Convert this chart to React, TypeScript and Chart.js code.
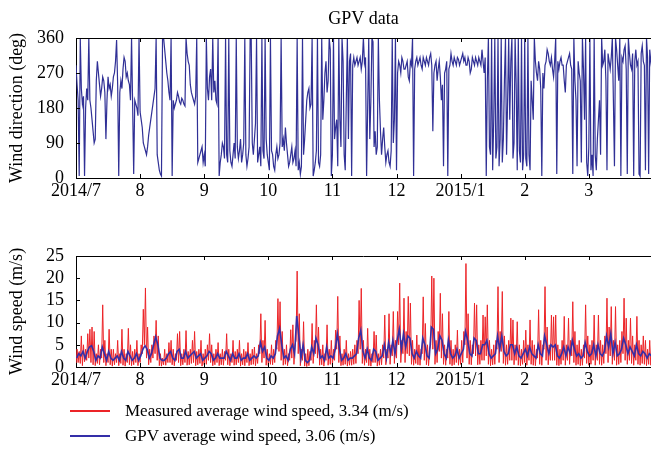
import React, { useEffect, useRef } from "react";
import { Chart, registerables } from "chart.js";

Chart.register(...registerables);

// ---------- Data ----------
const monthLabels = ["2014/7", "8", "9", "10", "11", "12", "2015/1", "2", "3"];
const DAYS = 30;

// Wind direction (deg), GPV: morning reading (A) and afternoon reading (B) per day
const dirJulA = [290, 200, 360, 190, 5, 230, 360, 180, 120, 100, 300, 240, 230, 250, 100, 260, 240, 230, 270, 355, 5, 250, 280, 300, 270, 240, 360, 10, 190, 160];
const dirJulB = [240, 5, 230, 210, 180, 200, 200, 150, 90, 250, 270, 210, 260, 220, 200, 230, 210, 260, 300, 240, 220, 230, 310, 260, 250, 200, 190, 200, 180, 360];
const dirAugA = [170, 130, 80, 60, 110, 150, 190, 230, 60, 20, 5, 360, 300, 250, 200, 5, 180, 200, 210, 190, 200, 185, 320, 290, 220, 200, 210, 40, 60, 80];
const dirAugB = [150, 90, 70, 80, 130, 170, 210, 360, 40, 10, 360, 330, 270, 220, 360, 200, 190, 220, 195, 205, 190, 360, 300, 240, 210, 190, 360, 50, 70, 40];
const dirSepA = [60, 360, 200, 280, 360, 250, 190, 5, 60, 80, 360, 40, 70, 30, 90, 360, 50, 100, 60, 360, 30, 80, 360, 60, 140, 40, 80, 360, 50, 100];
const dirSepB = [30, 230, 260, 200, 220, 200, 360, 40, 90, 50, 60, 360, 40, 60, 50, 80, 70, 40, 90, 60, 50, 360, 90, 100, 360, 60, 30, 70, 360, 60];
const dirOctA = [40, 360, 60, 20, 80, 60, 360, 100, 130, 60, 40, 80, 50, 30, 20, 10, 360, 100, 200, 230, 190, 5, 40, 360, 30, 360, 200, 300, 250, 330];
const dirOctB = [20, 70, 30, 60, 50, 90, 80, 70, 90, 30, 60, 40, 70, 360, 40, 30, 60, 150, 220, 180, 360, 20, 70, 40, 60, 150, 270, 220, 360, 5];
const dirNovA = [60, 100, 150, 360, 80, 300, 20, 360, 300, 5, 310, 300, 290, 310, 300, 295, 5, 360, 200, 350, 120, 80, 200, 60, 130, 40, 70, 30, 360, 150];
const dirNovB = [360, 130, 30, 150, 360, 60, 200, 100, 320, 290, 290, 310, 300, 280, 360, 310, 180, 100, 360, 80, 60, 360, 120, 100, 80, 60, 40, 70, 90, 360];
const dirDecA = [20, 300, 270, 300, 280, 300, 250, 290, 5, 300, 290, 310, 280, 300, 310, 290, 320, 120, 290, 250, 300, 200, 30, 280, 5, 290, 300, 310, 290, 305];
const dirDecB = [270, 290, 310, 280, 290, 260, 300, 360, 280, 310, 300, 290, 310, 290, 300, 310, 290, 270, 300, 280, 260, 240, 270, 300, 280, 320, 290, 300, 310, 290];
const dirJanA = [300, 320, 310, 290, 300, 280, 300, 310, 290, 300, 330, 270, 5, 360, 60, 20, 360, 80, 30, 360, 100, 360, 200, 150, 360, 90, 240, 360, 40, 20];
const dirJanB = [310, 300, 290, 310, 270, 310, 290, 300, 310, 290, 300, 310, 250, 80, 360, 150, 50, 360, 100, 40, 250, 60, 360, 300, 50, 360, 20, 70, 360, 60];
const dirFebA = [360, 30, 60, 250, 150, 300, 250, 280, 5, 230, 300, 320, 290, 280, 300, 10, 280, 310, 290, 220, 300, 320, 280, 360, 200, 300, 250, 360, 150, 40];
const dirFebB = [50, 360, 20, 200, 360, 270, 300, 230, 270, 290, 330, 300, 310, 260, 360, 300, 300, 290, 250, 290, 310, 290, 10, 250, 30, 270, 40, 280, 360, 5];
const dirMarA = [80, 20, 5, 60, 100, 200, 360, 300, 250, 320, 280, 360, 30, 330, 250, 5, 300, 340, 10, 320, 280, 5, 330, 300, 5, 340, 290, 360, 10, 300];
const dirMarB = [360, 60, 360, 20, 150, 60, 290, 330, 20, 300, 310, 200, 360, 290, 360, 310, 330, 280, 360, 290, 320, 300, 290, 10, 320, 300, 20, 310, 330, 280];
const directionA = [dirJulA, dirAugA, dirSepA, dirOctA, dirNovA, dirDecA, dirJanA, dirFebA, dirMarA];
const directionB = [dirJulB, dirAugB, dirSepB, dirOctB, dirNovB, dirDecB, dirJanB, dirFebB, dirMarB];

// Measured wind speed (m/s): daily low and daily high
const measLowJul = [0.5, 1, 0.8, 0.3, 1.2, 1.5, 2, 1, 0.5, 0.3, 0.8, 0.5, 2, 1, 0.3, 1, 0.5, 0.2, 0.5, 1, 0.3, 0.8, 0.4, 0.2, 1, 0.5, 0.3, 0.5, 1, 0.3];
const measHighJul = [4, 3.5, 7, 5, 4, 7.5, 8.5, 9, 8, 3, 5, 4, 14, 6, 3, 8.5, 4, 4, 3, 6, 3, 8.5, 4, 3, 8.7, 5, 3.5, 4, 6, 3];
const measLowAug = [1, 3, 5, 2, 0.5, 1, 2, 3, 1.5, 0.3, 0.2, 0.5, 0.4, 1, 1, 0.5, 0.3, 1.5, 1, 0.3, 0.5, 1, 0.4, 0.5, 0.8, 1, 0.3, 0.5, 0.8, 0.2];
const measHighAug = [5, 13, 17.8, 9, 4, 5, 7, 10.5, 7, 3, 2, 4, 3, 5.5, 6, 4, 3, 7.5, 8, 3, 4, 8.2, 3.5, 4, 6, 8, 3.5, 4, 6, 3];
const measLowSep = [0.5, 0.6, 1.5, 1, 0.3, 0.5, 1, 0.3, 0.5, 0.4, 1.5, 0.5, 0.3, 1, 0.4, 0.5, 1, 0.2, 0.5, 0.3, 1, 0.3, 0.5, 0.6, 0.3, 0.8, 3, 1, 2, 0.4];
const measHighSep = [4, 5, 7.5, 5, 3, 4, 5.5, 3, 4, 3.5, 7.5, 4, 3, 6, 3.5, 4, 6, 3, 4, 3.5, 5.5, 3, 4, 4.5, 3, 5, 12, 6, 10.5, 4];
const measLowOct = [0.3, 0.6, 0.5, 1, 4, 3.5, 1.5, 0.4, 0.6, 0.3, 1.5, 2, 0.6, 6, 3, 0.3, 1.5, 0.2, 0.1, 0.3, 1.5, 0.8, 3, 2, 0.4, 0.5, 0.2, 1.5, 0.4, 0.6];
const measHighOct = [3, 5, 4, 6, 15.4, 14.7, 8, 4, 5, 3, 8.4, 9.5, 5, 21.6, 12, 4, 10.2, 3, 4, 3.5, 9.8, 6, 14, 9, 4, 5, 3, 9.5, 4, 6];
const measLowNov = [0.4, 1.5, 4, 1, 0.3, 0.4, 0.6, 0.2, 0.4, 0.4, 0.6, 0.8, 3, 4, 0.8, 0.4, 1, 0.3, 0.2, 1, 1, 0.2, 0.4, 0.5, 2, 0.5, 2, 0.6, 2.5, 0.8];
const measHighNov = [4, 8.3, 15.9, 7, 3, 4, 6, 3, 3.5, 4, 5, 6, 15, 17.7, 6, 4, 8.7, 4, 3, 8, 7.2, 3, 4, 5, 11.7, 4, 12, 5, 12.5, 6];
const measLowDec = [2, 5, 1, 3, 1, 3, 2.5, 0.6, 0.4, 0.8, 0.5, 0.4, 3, 1.5, 0.5, 0.3, 5, 4, 0.6, 1, 3.5, 2, 0.6, 0.4, 2, 0.6, 0.3, 0.5, 1, 0.4];
const measHighDec = [12.5, 18.9, 6, 15.5, 8, 15.9, 14.4, 6, 4, 7.2, 5, 4, 15.8, 9.8, 5, 4, 20.5, 20, 6, 8, 16.6, 12, 5, 4, 12.5, 6, 4, 5, 8.3, 4];
const measLowJan = [0.6, 1, 5, 2, 0.6, 0.5, 3, 2.5, 0.5, 0.6, 1.5, 1.5, 2.5, 0.6, 0.3, 0.5, 0.6, 4, 1, 3.5, 0.8, 0.4, 0.6, 1.5, 1.5, 0.5, 1.5, 0.4, 0.3, 0.6];
const measHighJan = [6, 8, 23.3, 12, 6, 5, 14.4, 14, 5, 6, 11.7, 11.3, 14, 6, 4, 5, 6, 18.1, 8, 17, 7, 5, 6, 11, 10.6, 5, 10.2, 5, 4, 6];
const measLowFeb = [1, 0.4, 1.5, 0.6, 0.4, 0.3, 2, 0.6, 0.4, 4, 1.5, 0.5, 1.5, 1.5, 1.5, 0.4, 0.3, 0.6, 1.5, 0.4, 1.5, 0.6, 2.5, 1, 0.4, 0.6, 0.3, 0.4, 2, 0.8];
const measHighFeb = [8.3, 5, 10.6, 6, 5, 4, 12.9, 6, 5, 18.1, 9, 5, 11.7, 11.3, 11.7, 5, 4, 6, 11.4, 5, 11, 6, 14.7, 8, 5, 6, 4, 5, 14, 7];
const measLowMar = [0.4, 0.6, 1.5, 0.4, 1.5, 0.6, 0.4, 0.8, 3, 1, 2.5, 0.6, 1.5, 0.4, 0.6, 1, 3, 1.5, 0.6, 1.5, 0.8, 0.4, 1.5, 0.6, 0.4, 0.8, 0.6, 0.3, 0.6, 0.4];
const measHighMar = [5, 6, 11.7, 5, 11.7, 6, 5, 7, 15.5, 9, 13.6, 6, 13.6, 5, 6, 8, 15.5, 11, 6, 11, 7, 5, 11.4, 6, 5, 7, 6, 4, 6, 5];
const measuredLowByMonth = [measLowJul, measLowAug, measLowSep, measLowOct, measLowNov, measLowDec, measLowJan, measLowFeb, measLowMar];
const measuredHighByMonth = [measHighJul, measHighAug, measHighSep, measHighOct, measHighNov, measHighDec, measHighJan, measHighFeb, measHighMar];

// GPV wind speed (m/s), one reading per day
const gpvJul = [2, 3, 2.5, 3.5, 2, 3.5, 4.5, 4.8, 3.5, 1.5, 2.5, 2, 4.5, 3, 1.5, 3.5, 2, 1.5, 2, 2.5, 1.5, 3.5, 2, 1.5, 3.5, 2.5, 1.5, 2, 3, 1.5];
const gpvAug = [2.5, 4, 4.8, 4, 2, 3, 5, 6.8, 5, 2, 1.5, 1.5, 2, 3, 3.5, 2, 1.5, 3.5, 4, 2, 2, 3.5, 2, 2.5, 3, 3.5, 2, 2.5, 3, 1.5];
const gpvSep = [2, 2.5, 3.5, 3, 1.5, 2, 3, 2, 2, 2, 3.5, 2.5, 1.5, 3, 2, 2, 3, 1.5, 2, 2, 3, 1.5, 2, 2.5, 2, 2.5, 5.5, 3.5, 4.5, 2];
const gpvOct = [1.5, 2.5, 2, 3, 7, 8.7, 5, 2, 2.5, 1.5, 4, 5, 3, 11.5, 7, 2, 5, 1.5, 1, 1.5, 4.5, 3, 6.5, 5, 2, 2.5, 1.5, 4.5, 2, 2.5];
const gpvNov = [2, 4, 7.5, 4, 1.5, 2, 3, 1.5, 2, 2, 2.5, 3, 6.5, 8.3, 3.5, 2, 4, 2, 1.5, 4, 3.5, 1.5, 2, 2.5, 5, 2, 5.5, 3, 6, 3];
const gpvDec = [6, 8.5, 4, 7.5, 4.5, 7, 6.5, 3, 2, 3.5, 2.5, 2, 6.5, 5, 2.5, 2, 9, 8.5, 3, 4, 7, 6, 3, 2, 6, 3, 2, 2.5, 4, 2];
const gpvJan = [3, 4, 8, 6, 3, 2.5, 6.5, 6, 3, 3, 5, 5, 6, 3, 2, 2.5, 3, 7, 4, 7, 3.5, 2.5, 3, 5, 5, 3, 4.5, 2.5, 2, 3];
const gpvFeb = [4, 2.5, 4.5, 3, 2.5, 2, 5, 3, 2.5, 7, 5, 3, 5, 4.5, 5, 2.5, 2, 3, 4.5, 2.5, 4.5, 3, 6, 4, 2.5, 3, 2, 2.5, 5.5, 3.5];
const gpvMar = [2.5, 3, 5, 2.5, 5, 3, 2.5, 3.5, 7, 4.5, 7.5, 3, 5.5, 2.5, 3, 4, 6.5, 5, 3, 4.5, 3.5, 2.5, 5, 3, 2.5, 3.5, 3, 2, 3, 2.5];
const gpvByMonth = [gpvJul, gpvAug, gpvSep, gpvOct, gpvNov, gpvDec, gpvJan, gpvFeb, gpvMar];

const legendMeasured = "Measured average wind speed, 3.34 (m/s)";
const legendGpv = "GPV average wind speed, 3.06 (m/s)";

// ---------- Styles ----------
const FONT_FAMILY = "'Liberation Serif', 'Times New Roman', serif";
const DIR_COLOR = "rgb(48,48,150)";
const RED = "rgb(236,36,40)";
const BLUE = "rgb(52,46,168)";
const X_MAX = 8.97;

// Build points
const directionPoints = directionA.flatMap((arr, m) =>
  arr.flatMap((v, j) => [
    { x: m + j / DAYS, y: v },
    { x: m + (j + 0.5) / DAYS, y: directionB[m][j] },
  ])
);
const measuredPoints = measuredLowByMonth.flatMap((lows, m) =>
  lows.flatMap((lo, j) => [
    { x: m + j / DAYS, y: lo },
    { x: m + (j + 0.5) / DAYS, y: measuredHighByMonth[m][j] },
  ])
);
const gpvPoints = gpvByMonth.flatMap((arr, m) =>
  arr.map((v, j) => ({ x: m + (j + 0.3) / DAYS, y: v }))
);

const frameTicks = {
  id: "frameTicks",
  afterDraw(chart: any, _args: any, opts: any) {
    const { ctx, chartArea } = chart;
    const xs = chart.scales.x;
    const ys = chart.scales.y;
    ctx.save();
    ctx.strokeStyle = "#000";
    ctx.lineWidth = 1;
    ctx.beginPath();
    ctx.moveTo(chartArea.left, chartArea.top + 0.5);
    ctx.lineTo(chartArea.right, chartArea.top + 0.5);
    ctx.stroke();
    ctx.beginPath();
    xs.ticks.forEach((t: any) => {
      const px = Math.round(xs.getPixelForValue(t.value)) + 0.5;
      ctx.moveTo(px, chartArea.top);
      ctx.lineTo(px, chartArea.top + 4);
      ctx.moveTo(px, chartArea.bottom);
      ctx.lineTo(px, chartArea.bottom - 4);
    });
    ys.ticks.forEach((t: any) => {
      const py = Math.round(ys.getPixelForValue(t.value)) + 0.5;
      ctx.moveTo(chartArea.left, py);
      ctx.lineTo(chartArea.left + 4, py);
    });
    ctx.stroke();
    if (opts && opts.title) {
      ctx.fillStyle = "#000";
      ctx.font = `18px ${FONT_FAMILY}`;
      ctx.textAlign = "center";
      ctx.textBaseline = "middle";
      ctx.fillText(opts.title, (chartArea.left + chartArea.right) / 2, opts.titleY);
    }
    ctx.restore();
  },
};

function xScale(height: number) {
  return {
    type: "linear" as const,
    min: 0,
    max: X_MAX,
    afterBuildTicks: (s: any) => {
      s.ticks = monthLabels.map((_, i) => ({ value: i }));
    },
    afterFit: (s: any) => {
      s.height = height;
    },
    ticks: {
      autoSkip: false,
      maxRotation: 0,
      padding: 2,
      color: "#000",
      font: { family: FONT_FAMILY, size: 18 },
      callback: (v: any) => monthLabels[Math.round(Number(v))],
    },
    grid: { display: true, drawOnChartArea: false, drawTicks: false },
    border: { display: true, color: "#000", width: 1 },
  };
}

function yScale(max: number, step: number, title: string) {
  return {
    min: 0,
    max,
    afterFit: (s: any) => {
      s.width = 76;
    },
    ticks: {
      stepSize: step,
      autoSkip: false,
      padding: 12,
      color: "#000",
      font: { family: FONT_FAMILY, size: 18 },
    },
    grid: { display: true, drawOnChartArea: false, drawTicks: false },
    border: { display: true, color: "#000", width: 1 },
    title: {
      display: true,
      text: title,
      color: "#000",
      font: { family: FONT_FAMILY, size: 18 },
      padding: { top: 6, bottom: 0 },
    },
  };
}

export default function App() {
  const topRef = useRef<HTMLCanvasElement | null>(null);
  const botRef = useRef<HTMLCanvasElement | null>(null);

  useEffect(() => {
    const top = new Chart(topRef.current as HTMLCanvasElement, {
      type: "line",
      data: {
        datasets: [
          {
            data: directionPoints,
            borderColor: DIR_COLOR,
            borderWidth: 1.2,
            pointRadius: 0,
            tension: 0,
          },
        ],
      },
      options: {
        animation: false,
        responsive: false,
        maintainAspectRatio: false,
        parsing: false,
        layout: { padding: { top: 38, left: 0, right: 0, bottom: 0 } },
        plugins: {
          legend: { display: false },
          tooltip: { enabled: false },
          frameTicks: { title: "GPV data", titleY: 19 },
        } as any,
        scales: {
          x: xScale(27) as any,
          y: yScale(360, 90, "Wind direction (deg)") as any,
        },
      },
      plugins: [frameTicks],
    });

    const bot = new Chart(botRef.current as HTMLCanvasElement, {
      type: "line",
      data: {
        datasets: [
          {
            label: legendGpv,
            data: gpvPoints,
            borderColor: BLUE,
            borderWidth: 1.6,
            pointRadius: 0,
            tension: 0,
          },
          {
            label: legendMeasured,
            data: measuredPoints,
            borderColor: RED,
            borderWidth: 1,
            pointRadius: 0,
            tension: 0,
          },
        ],
      },
      options: {
        animation: false,
        responsive: false,
        maintainAspectRatio: false,
        parsing: false,
        layout: { padding: { top: 26, left: 0, right: 0, bottom: 0 } },
        plugins: {
          legend: { display: false },
          tooltip: { enabled: false },
          frameTicks: {},
        } as any,
        scales: {
          x: xScale(35) as any,
          y: yScale(25, 5, "Wind speed (m/s)") as any,
        },
      },
      plugins: [frameTicks],
    });

    return () => {
      top.destroy();
      bot.destroy();
    };
  }, []);

  const legendText: React.CSSProperties = {
    position: "absolute",
    left: 125,
    fontFamily: FONT_FAMILY,
    fontSize: 17,
    color: "#000",
    lineHeight: "20px",
    whiteSpace: "nowrap",
  };
  const legendLine: React.CSSProperties = {
    position: "absolute",
    left: 70,
    width: 40,
    height: 1.5,
  };

  return (
    <div style={{ position: "absolute", left: 0, top: 0, width: 651, height: 462, background: "#fff", overflow: "hidden" }}>
      <canvas ref={topRef} width={651} height={205} style={{ position: "absolute", left: 0, top: 0, display: "block" }} />
      <canvas ref={botRef} width={651} height={172} style={{ position: "absolute", left: 0, top: 230, display: "block" }} />
      <div style={{ ...legendLine, top: 410, background: RED }} />
      <div style={{ ...legendText, top: 401 }}>{legendMeasured}</div>
      <div style={{ ...legendLine, top: 435, background: BLUE }} />
      <div style={{ ...legendText, top: 426 }}>{legendGpv}</div>
    </div>
  );
}
